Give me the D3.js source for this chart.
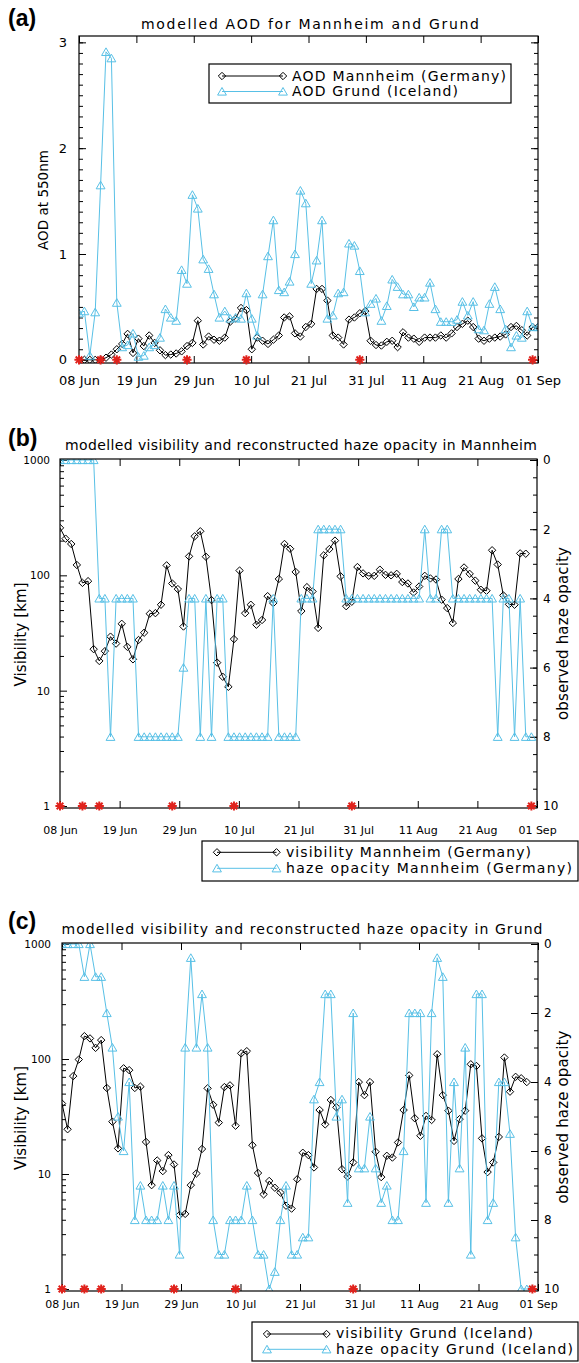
<!DOCTYPE html>
<html>
<head>
<meta charset="utf-8">
<script src="https://cdn.jsdelivr.net/npm/d3@7"></script>
<style>
  body { margin: 0; background: #fff; }
</style>
</head>
<body>
<svg id="fig" width="579" height="1363"></svg>
<script>
// ---- data (one value per day, day 0 = 08 Jun) ----
const tickLabels = ["08 Jun", "19 Jun", "29 Jun", "10 Jul", "21 Jul", "31 Jul", "11 Aug", "21 Aug", "01 Sep"];
const tickDays = d3.range(9).map(i => i * 85 / 8);
const starDays = [0, 4, 7, 20, 31, 52, 84];

const aodMannheim = [
  0.0, 0.0, 0.0, 0.0, 0.0, 0.02, 0.05, 0.10, 0.15, 0.245,
  0.065, 0.20, 0.13, 0.23, 0.16, 0.09, 0.045, 0.05, 0.06, 0.08,
  0.13, 0.16, 0.37, 0.145, 0.22, 0.19, 0.18, 0.21, 0.36, 0.39,
  0.49, 0.47, 0.10, 0.21, 0.18, 0.15, 0.19, 0.23, 0.40, 0.41,
  0.25, 0.22, 0.31, 0.34, 0.67, 0.67, 0.56, 0.23, 0.21, 0.145,
  0.38, 0.40, 0.44, 0.46, 0.18, 0.14, 0.135, 0.17, 0.18, 0.12,
  0.26, 0.21, 0.20, 0.17, 0.21, 0.21, 0.21, 0.23, 0.21, 0.25,
  0.31, 0.34, 0.37, 0.31, 0.20, 0.18, 0.20, 0.21, 0.22, 0.24,
  0.31, 0.32, 0.28, 0.23, 0.31, 0.31
];
const aodGrund = [
  0.44, 0.46, 0.04, 0.45, 1.65, 2.91, 2.85, 0.54, 0.12, 0.14,
  0.25, 0.03, 0.04, 0.12, 0.14, 0.21, 0.48, 0.40, 0.37, 0.85,
  0.72, 1.56, 1.43, 0.95, 0.86, 0.62, 0.40, 0.46, 0.39, 0.40,
  0.39, 0.63, 0.39, 0.23, 0.62, 0.98, 1.32, 0.66, 0.64, 0.74,
  1.00, 1.60, 1.48, 0.72, 0.94, 1.32, 0.39, 0.42, 0.63, 0.64,
  1.10, 1.08, 0.84, 0.45, 0.53, 0.58, 0.37, 0.51, 0.76, 0.69,
  0.62, 0.62, 0.50, 0.59, 0.59, 0.73, 0.48, 0.36, 0.36, 0.36,
  0.38, 0.55, 0.42, 0.55, 0.29, 0.28, 0.53, 0.69, 0.48, 0.29,
  0.12, 0.23, 0.21, 0.46, 0.31, 0.31
];
const visMannheim = [
  258, 208, 187, 123, 86, 89, 22.9, 18.1, 22, 29.4,
  25.6, 38, 24, 18.7, 27.5, 31.8, 46.5, 47, 55.6, 122,
  85, 76, 36, 146, 218, 241, 145, 61, 17.5, 13.2,
  10.8, 28, 110, 47, 55.6, 37.3, 41, 66, 57.5, 93,
  187, 170, 107, 49, 79, 72.5, 35, 149, 169, 200,
  98, 54, 59, 118, 104, 99, 99, 112, 101, 100,
  103, 87.5, 85, 71, 80, 99, 94, 92, 61.5, 52,
  38.6, 93, 117, 103, 90, 75, 73.5, 165, 124, 67,
  56, 55.6, 155, 154
];
const hazeMannheim = [
  0, 0, 0, 0, 0, 0, 0, 4, 4, 8,
  4, 4, 4, 4, 8, 8, 8, 8, 8, 8,
  8, 8, 6, 4, 4, 8, 4, 8, 4, 4,
  8, 8, 8, 8, 8, 8, 8, 8, 4, 8,
  8, 8, 8, 4, 4, 4, 2, 2, 2, 2,
  2, 4, 4, 4, 4, 4, 4, 4, 4, 4,
  4, 4, 4, 4, 4, 2, 4, 4, 2, 2,
  4, 4, 4, 4, 4, 4, 4, 4, 8, 4,
  4, 8, 4, 8, 8
];
const visGrund = [
  41, 24.5, 71, 99, 158, 151, 125, 146, 56, 28.5,
  16.7, 83, 80, 56, 57.5, 19, 8.0, 13.1, 10.6, 14.6,
  12.1, 4.4, 4.5, 8.0, 10.1, 16.5, 55.6, 40, 28, 57,
  59, 26.3, 112, 117, 17.8, 10.2, 6.65, 8.7, 7.6, 6.9,
  5.3, 5.0, 9.0, 15.3, 14.6, 11.4, 36, 27, 44, 38,
  11, 9.5, 12.6, 63, 48.5, 63, 15.6, 9.4, 14.4, 13.9,
  18.8, 36, 72, 30.5, 21.5, 32, 29.5, 110, 48.5, 35.5,
  19.4, 30, 35.5, 90, 87, 20.4, 10.4, 12.6, 21, 103,
  52, 70, 68, 63
];
const hazeGrund = [
  0, 0, 0, 0, 0.95, 0, 0.95, 0.95, 2, 3,
  5, 6, 4, 8, 7, 8, 8, 8, 7, 8,
  7, 9, 3, 0.4, 3, 1.45, 3, 8, 9, 9,
  8, 8, 8, 7, 8, 9, 9, 10, 9.5, 8,
  7, 9, 9, 8.5, 8.5, 4.5, 4, 1.45, 1.45, 5,
  4.5, 7.5, 2, 6.5, 6.5, 5, 6.5, 7.5, 7, 8,
  8, 6, 2, 2, 2, 7.5, 2, 0.4, 0.95, 7.5,
  4, 6.5, 3, 9, 1.45, 1.45, 8, 7.5, 4, 4,
  5.5, 8.5, 10, 10, 10
];

// ---- style ----
const FONT = "'DejaVu Sans', Verdana, sans-serif";
const BLUE = "#58c0e6";
const RED = "#e0221c";
const DIAMOND = "M0,-3.7L3.7,0L0,3.7L-3.7,0Z";
const TRIANGLE = "M0,-4L4.4,3.6L-4.4,3.6Z";
const STAR = "M0,-4.6V4.6M-4.6,0H4.6M-3.3,-3.3L3.3,3.3M-3.3,3.3L3.3,-3.3";

const svg = d3.select("#fig");

function styleAxis(sel, size) {
  sel.select(".domain").remove();
  sel.selectAll(".tick line").attr("stroke", "#000");
  sel.selectAll(".tick text")
    .attr("fill", "#000")
    .attr("font-size", size)
    .attr("font-family", FONT);
}

function addClip(id, p) {
  svg.append("clipPath").attr("id", id).append("rect")
    .attr("x", p.left).attr("y", p.top)
    .attr("width", p.right - p.left).attr("height", p.bottom - p.top);
}

function timeAxes(p, x, size, pad) {
  svg.append("g").attr("transform", `translate(0,${p.top})`)
    .call(d3.axisTop(x).tickValues(tickDays).tickSize(-7).tickFormat(""))
    .call(s => styleAxis(s, 0));
  svg.append("g").attr("transform", `translate(0,${p.bottom})`)
    .call(d3.axisBottom(x).tickValues(tickDays).tickSize(-7).tickPadding(pad)
      .tickFormat((d, i) => tickLabels[i]))
    .call(s => styleAxis(s, size));
}

function series(x, y, values, color, sym, clipId) {
  const pts = values.map((v, i) => [i, v]);
  const layer = svg.append("g").attr("clip-path", `url(#${clipId})`);
  layer.append("path").datum(pts)
    .attr("fill", "none").attr("stroke", color).attr("stroke-width", 1)
    .attr("d", d3.line().x(d => x(d[0])).y(d => y(d[1])));
  layer.selectAll(null).data(pts).join("path")
    .attr("transform", d => `translate(${x(d[0])},${y(d[1])})`)
    .attr("d", sym).attr("fill", "none").attr("stroke", color).attr("stroke-width", 1);
}

function stars(x, yPos) {
  svg.append("g").selectAll("path").data(starDays).join("path")
    .attr("transform", d => `translate(${x(d)},${yPos})`)
    .attr("d", STAR).attr("stroke", RED).attr("stroke-width", 2).attr("fill", "none");
}

function frameRect(p) {
  svg.append("rect")
    .attr("x", p.left).attr("y", p.top)
    .attr("width", p.right - p.left).attr("height", p.bottom - p.top)
    .attr("fill", "none").attr("stroke", "#000").attr("stroke-width", 1.2);
}

function text(x, y, str, size, opts = {}) {
  const t = svg.append("text")
    .attr("x", x).attr("y", y)
    .attr("font-family", opts.family || FONT)
    .attr("font-size", size)
    .attr("font-weight", opts.weight || "normal")
    .attr("text-anchor", opts.anchor || "start")
    .attr("fill", "#000")
    .text(str);
  if (opts.len) t.attr("textLength", opts.len).attr("lengthAdjust", "spacing");
  if (opts.rotate) t.attr("transform", `rotate(-90,${x},${y})`);
  return t;
}

function legend(box, rows, size) {
  svg.append("rect")
    .attr("x", box.x).attr("y", box.y).attr("width", box.w).attr("height", box.h)
    .attr("fill", "#fff").attr("stroke", "#000").attr("stroke-width", 1.2);
  rows.forEach(r => {
    svg.append("line")
      .attr("x1", box.s1).attr("x2", box.s2).attr("y1", r.y).attr("y2", r.y)
      .attr("stroke", r.color).attr("stroke-width", 1);
    [box.s1, box.s2].forEach(sx => {
      svg.append("path").attr("transform", `translate(${sx},${r.y})`)
        .attr("d", r.sym).attr("fill", "none").attr("stroke", r.color);
    });
    text(box.tx, r.base, r.label, size, {len: r.len});
  });
}

// ================= panel (a) =================
const A = {left: 79, right: 538, top: 36, bottom: 363};
const xA = d3.scaleLinear().domain([0, 85]).range([A.left, A.right]);
const yA = d3.scaleLinear().domain([-0.03, 3.06]).range([A.bottom, A.top]);
addClip("clipA", A);

const aMinor = d3.range(0, 31).map(i => i / 10);
svg.append("g").attr("transform", `translate(${A.left},0)`)
  .call(d3.axisLeft(yA).tickValues(aMinor).tickSize(-4).tickFormat(""))
  .call(s => styleAxis(s, 0));
svg.append("g").attr("transform", `translate(${A.left},0)`)
  .call(d3.axisLeft(yA).tickValues([0, 1, 2, 3]).tickSize(-7).tickPadding(12).tickFormat(d3.format("d")))
  .call(s => styleAxis(s, 13));
svg.append("g").attr("transform", `translate(${A.right},0)`)
  .call(d3.axisRight(yA).tickValues(aMinor).tickSize(-4).tickFormat(""))
  .call(s => styleAxis(s, 0));
svg.append("g").attr("transform", `translate(${A.right},0)`)
  .call(d3.axisRight(yA).tickValues([0, 1, 2, 3]).tickSize(-7).tickFormat(""))
  .call(s => styleAxis(s, 0));
timeAxes(A, xA, 13, 13);

series(xA, yA, aodMannheim, "#000", DIAMOND, "clipA");
series(xA, yA, aodGrund, BLUE, TRIANGLE, "clipA");
frameRect(A);
stars(xA, yA(0));

text(8, 26, "(a)", 23, {weight: "bold", family: "'Liberation Sans', Arial, sans-serif"});
text(310, 29, "modelled AOD for Mannheim and Grund", 14, {anchor: "middle", len: 338});
text(48, 200, "AOD at 550nm", 13.5, {anchor: "middle", rotate: true, len: 100});

legend({x: 209, y: 64, w: 302, h: 39, s1: 222, s2: 283, tx: 292}, [
  {y: 76, base: 80.5, color: "#000", sym: DIAMOND, label: "AOD Mannheim (Germany)", len: 214},
  {y: 91.5, base: 96, color: BLUE, sym: TRIANGLE, label: "AOD Grund (Iceland)", len: 166}
], 14);

// ================= panels (b) and (c) =================
const decadeMinor = [1, 10, 100].flatMap(d => d3.range(2, 10).map(k => k * d));
const hazeMinor = d3.range(0, 21).map(i => i / 2);

function visPanel(P, clipId, vis, haze, pads) {
  const x = d3.scaleLinear().domain([0, 85]).range([P.left, P.right]);
  const y = d3.scaleLog().domain([1, 1000]).range([P.y1, P.y1000]);
  const yH = d3.scaleLinear().domain([0, 10]).range([P.y1000, P.y1]);
  addClip(clipId, P);

  svg.append("g").attr("transform", `translate(${P.left},0)`)
    .call(d3.axisLeft(y).tickValues(decadeMinor).tickSize(-4).tickFormat(""))
    .call(s => styleAxis(s, 0));
  svg.append("g").attr("transform", `translate(${P.left},0)`)
    .call(d3.axisLeft(y).tickValues([1, 10, 100, 1000]).tickSize(-7).tickPadding(pads.left).tickFormat(d3.format("d")))
    .call(s => styleAxis(s, 10.5));
  svg.append("g").attr("transform", `translate(${P.right},0)`)
    .call(d3.axisRight(yH).tickValues(hazeMinor).tickSize(-4).tickFormat(""))
    .call(s => styleAxis(s, 0));
  svg.append("g").attr("transform", `translate(${P.right},0)`)
    .call(d3.axisRight(yH).tickValues([0, 2, 4, 6, 8, 10]).tickSize(-7).tickPadding(6).tickFormat(d3.format("d")))
    .call(s => styleAxis(s, 12));
  timeAxes(P, x, 11, pads.bottom);

  series(x, y, vis, "#000", DIAMOND, clipId);
  series(x, yH, haze, BLUE, TRIANGLE, clipId);
  frameRect(P);
  stars(x, y(1));

  const mid = (P.top + P.bottom) / 2;
  text(26, mid + 1, "Visibility [km]", 15, {anchor: "middle", rotate: true, len: 104});
  text(568, mid, "observed haze opacity", 15, {anchor: "middle", rotate: true, len: 173});
}

const B = {left: 60, right: 537, top: 459, bottom: 808, y1: 806, y1000: 460};
visPanel(B, "clipB", visMannheim, hazeMannheim, {left: 10, bottom: 18});
text(8, 446, "(b)", 23, {weight: "bold", family: "'Liberation Sans', Arial, sans-serif"});
text(301, 450, "modelled visibility and reconstructed haze opacity in Mannheim", 14, {anchor: "middle", len: 472});
legend({x: 202, y: 841, w: 376, h: 40, s1: 217, s2: 276.5, tx: 286}, [
  {y: 852.3, base: 857, color: "#000", sym: DIAMOND, label: "visibility Mannheim (Germany)", len: 245},
  {y: 868.3, base: 873, color: BLUE, sym: TRIANGLE, label: "haze opacity Mannheim (Germany)", len: 286}
], 14);

const C = {left: 62, right: 538, top: 943, bottom: 1291, y1: 1289, y1000: 944};
visPanel(C, "clipC", visGrund, hazeGrund, {left: 11, bottom: 9.5});
text(8, 929, "(c)", 23, {weight: "bold", family: "'Liberation Sans', Arial, sans-serif"});
text(302, 934, "modelled visibility and reconstructed haze opacity in Grund", 14, {anchor: "middle", len: 481});
legend({x: 252, y: 1322, w: 326, h: 39, s1: 267, s2: 326.5, tx: 336}, [
  {y: 1334, base: 1338, color: "#000", sym: DIAMOND, label: "visibility Grund (Iceland)", len: 197},
  {y: 1349.3, base: 1354, color: BLUE, sym: TRIANGLE, label: "haze opacity Grund (Iceland)", len: 237}
], 14);
</script>
</body>
</html>
